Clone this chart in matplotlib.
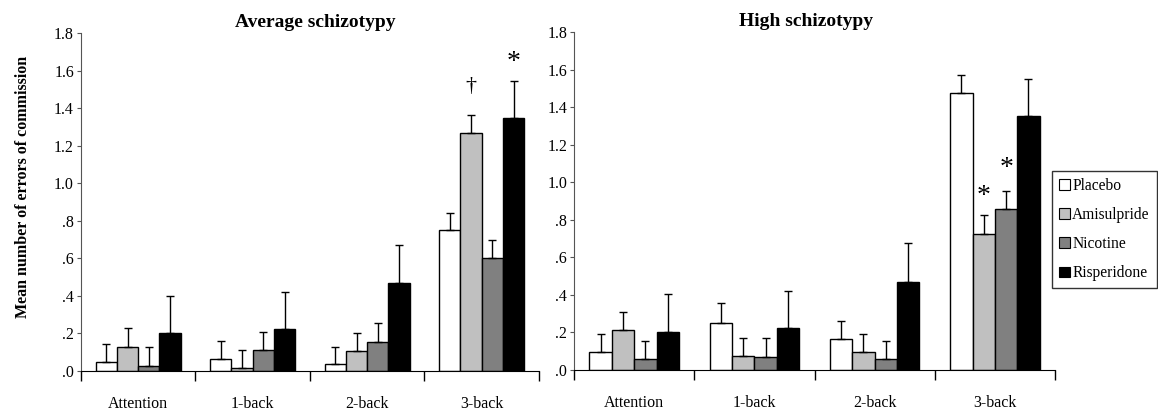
import numpy as np
import matplotlib
matplotlib.use('Agg')
import matplotlib.pyplot as plt
from matplotlib.patches import Patch

plt.rcParams['font.family'] = ['Liberation Serif', 'DejaVu Serif']

tasks = ['Attention', '1-back', '2-back', '3-back']
drugs = ['Placebo', 'Amisulpride', 'Nicotine', 'Risperidone']
colors = ['white', '#c0c0c0', '#808080', 'black']
ytick_labels = ['.0', '.2', '.4', '.6', '.8', '1.0', '1.2', '1.4', '1.6', '1.8']

# average schizotypy: means and upper error (SEM) per drug, per task
avg_means = {
    'Placebo':     [0.046, 0.064, 0.036, 0.749],
    'Amisulpride': [0.130, 0.014, 0.105, 1.267],
    'Nicotine':    [0.028, 0.110, 0.153, 0.604],
    'Risperidone': [0.202, 0.222, 0.470, 1.345],
}
avg_err = {
    'Placebo':     [0.096, 0.096, 0.094, 0.093],
    'Amisulpride': [0.097, 0.096, 0.095, 0.096],
    'Nicotine':    [0.102, 0.100, 0.104, 0.096],
    'Risperidone': [0.198, 0.198, 0.202, 0.200],
}

# high schizotypy
high_means = {
    'Placebo':     [0.098, 0.250, 0.163, 1.475],
    'Amisulpride': [0.211, 0.076, 0.098, 0.722],
    'Nicotine':    [0.057, 0.067, 0.057, 0.858],
    'Risperidone': [0.202, 0.222, 0.470, 1.350],
}
high_err = {
    'Placebo':     [0.092, 0.106, 0.096, 0.096],
    'Amisulpride': [0.096, 0.096, 0.092, 0.104],
    'Nicotine':    [0.097, 0.105, 0.097, 0.094],
    'Risperidone': [0.202, 0.200, 0.204, 0.200],
}

# significance markers: (task index, drug index, symbol, gap above error bar)
avg_marks = [(3, 1, '\u2020', 0.15), (3, 3, '*', 0.10)]
high_marks = [(3, 1, '*', 0.10), (3, 2, '*', 0.12)]

fig = plt.figure(figsize=(11.58, 4.12), dpi=100)
ax1 = fig.add_axes([0.0699, 0.0995, 0.3955, 0.8204])
ax2 = fig.add_axes([0.4957, 0.1020, 0.4154, 0.8204])

bw = 0.186
x = np.arange(len(tasks))
fs = 11.5


def draw(ax, means, errs, marks, title, tx):
    for i, d in enumerate(drugs):
        pos = x + (i - 1.5) * bw
        m = np.array(means[d])
        e = np.array(errs[d])
        ax.bar(pos, m, width=bw, color=colors[i], edgecolor='black', linewidth=1.0, zorder=2)
        ax.errorbar(pos, m, yerr=[np.zeros_like(e), e], fmt='none', ecolor='black',
                    elinewidth=1.0, capsize=3, capthick=1.0, zorder=3)
    for t, di, sym, gap in marks:
        d = drugs[di]
        top = means[d][t] + errs[d][t]
        px = x[t] + (di - 1.5) * bw
        ax.text(px, top + gap, sym, ha='center', va='center', fontsize=20 if sym == '*' else 16)
    ax.set_xlim(-0.5, 3.5)
    ax.set_ylim(0, 1.8)
    ax.set_yticks(np.arange(0, 1.81, 0.2))
    ax.set_yticklabels(ytick_labels, fontsize=fs)
    ax.set_xticks(x)
    ax.set_xticklabels(tasks, fontsize=fs)
    ax.set_xticks(np.arange(-0.5, 3.6, 1.0), minor=True)
    ax.tick_params(axis='x', which='major', length=0, pad=18)
    ax.tick_params(axis='x', which='minor', length=7, direction='out', width=1.0)
    ax.tick_params(axis='y', length=3, direction='out', width=0.8, color='#555555', pad=2)
    ax.spines['top'].set_visible(False)
    ax.spines['right'].set_visible(False)
    ax.spines['left'].set_color('#555555')
    ax.spines['bottom'].set_color('black')
    ax.set_title(title, fontsize=14, fontweight='bold', pad=4, x=tx)


draw(ax1, avg_means, avg_err, avg_marks, 'Average schizotypy', 0.511)
draw(ax2, high_means, high_err, high_marks, 'High schizotypy', 0.482)

ax1.set_ylabel('Mean number of errors of commission', fontsize=fs, fontweight='bold')
ax1.yaxis.set_label_coords(-0.109, 0.546)

handles = [Patch(facecolor=c, edgecolor='black', linewidth=0.8) for c in colors]
fig.legend(handles, drugs, loc='lower left', bbox_to_anchor=(0.9085, 0.30),
           fontsize=11.2, frameon=True, fancybox=False, edgecolor='black',
           handlelength=0.7, handleheight=0.7, handletextpad=0.15, labelspacing=0.85,
           borderpad=0.45, borderaxespad=0)

fig.savefig('out.png', dpi=100)
